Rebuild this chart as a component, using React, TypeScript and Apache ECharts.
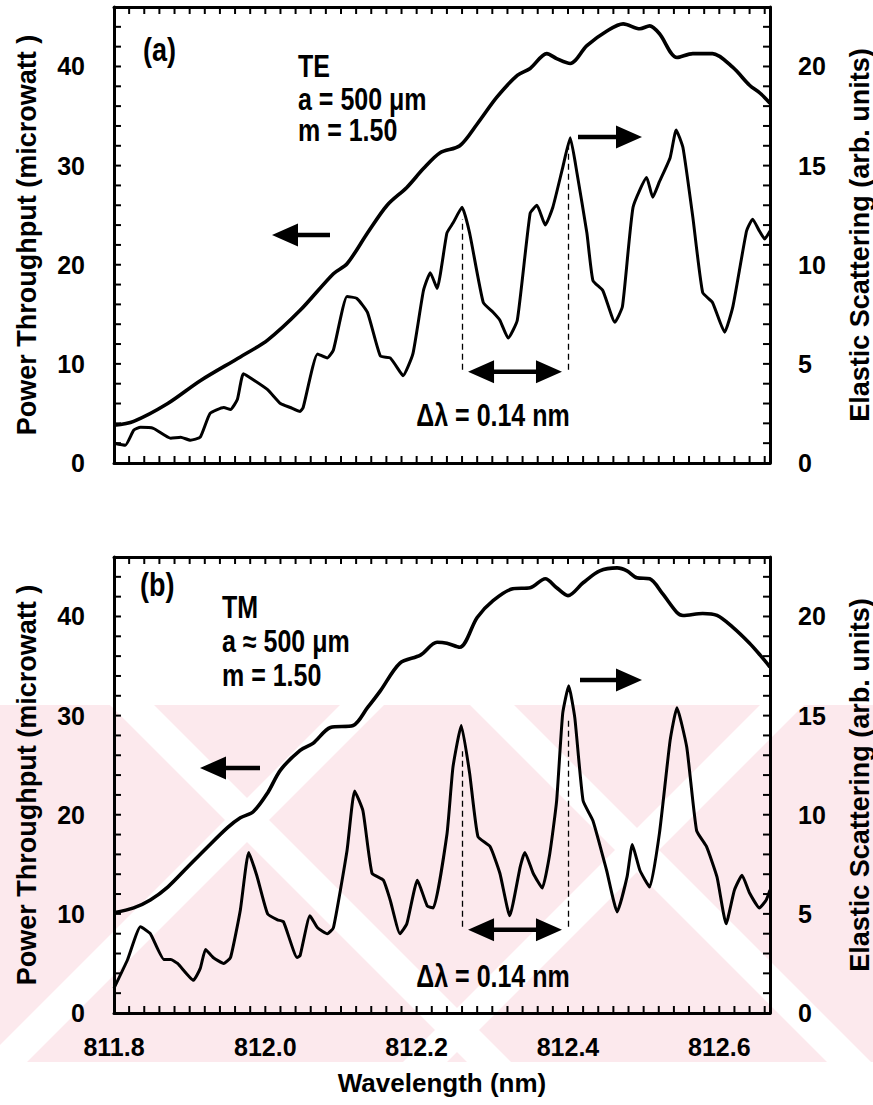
import React, { useEffect, useRef } from "react";
import * as echarts from "echarts";

// Wavelength range of both panels (nm)
const WL_MIN = 811.8;
const WL_MAX = 812.667;
const WL_STEP = 0.02;
const wavelengthLabels = [811.8, 812.0, 812.2, 812.4, 812.6];

// Left axis: power throughput (microwatt); right axis: elastic scattering (arb. units)
const POWER_MAX = 46;
const POWER_STEP = 2;
const SCATTER_MAX = 23;
const powerLabels = [0, 10, 20, 30, 40];
const scatterLabels = [0, 5, 10, 15, 20];

// (a) TE polarization
const teThroughput: [number, number][] = [
  [811.8, 3.8], [811.826, 4.2], [811.871, 6.0], [811.914, 8.3], [811.967, 10.7],
  [812.003, 12.4], [812.046, 15.4], [812.09, 19.1], [812.108, 20.1], [812.135, 23.2],
  [812.161, 26.0], [812.187, 27.8], [812.209, 29.7], [812.231, 31.3], [812.257, 32.0],
  [812.28, 34.2], [812.306, 36.9], [812.333, 39.1], [812.35, 39.8], [812.372, 41.3],
  [812.385, 40.8], [812.403, 40.3], [812.425, 42.1], [812.452, 43.6], [812.473, 44.3],
  [812.495, 43.8], [812.508, 44.1], [812.521, 43.3], [812.544, 40.9], [812.565, 41.3],
  [812.591, 41.3], [812.618, 39.9], [812.64, 38.1], [812.654, 37.3], [812.667, 36.3],
];

const teScattering: [number, number][] = [
  [811.8, 1.0], [811.815, 0.9], [811.826, 1.65], [811.835, 1.8], [811.852, 1.75],
  [811.875, 1.25], [811.888, 1.3], [811.901, 1.15], [811.914, 1.3], [811.927, 2.5],
  [811.945, 2.8], [811.954, 2.7], [811.963, 3.2], [811.971, 4.5], [811.984, 4.2],
  [812.003, 3.7], [812.02, 3.0], [812.033, 2.8], [812.046, 2.6], [812.05, 2.8],
  [812.069, 5.5], [812.082, 5.3], [812.09, 5.7], [812.108, 8.4], [812.121, 8.3],
  [812.135, 7.6], [812.152, 5.4], [812.165, 5.3], [812.178, 4.6], [812.182, 4.4],
  [812.195, 5.5], [812.209, 8.7], [812.218, 9.6], [812.227, 8.8], [812.24, 11.6],
  [812.248, 12.1], [812.26, 12.9], [812.27, 11.6], [812.288, 8.1], [812.301, 7.6],
  [812.31, 7.2], [812.321, 6.3], [812.333, 7.2], [812.35, 12.6], [812.359, 13.0],
  [812.37, 12.0], [812.38, 12.9], [812.393, 14.9], [812.403, 16.4], [812.412, 14.6],
  [812.425, 11.6], [812.433, 9.2], [812.446, 8.7], [812.462, 7.1], [812.472, 7.9],
  [812.486, 12.9], [812.504, 14.4], [812.512, 13.4], [812.521, 14.2], [812.535, 15.4],
  [812.543, 16.8], [812.552, 15.9], [812.565, 12.4], [812.578, 8.6], [812.591, 8.1],
  [812.607, 6.6], [812.618, 7.9], [812.636, 11.7], [812.644, 12.3], [812.653, 11.7],
  [812.66, 11.3], [812.667, 11.7],
];

// (b) TM polarization
const tmThroughput: [number, number][] = [
  [811.8, 10.1], [811.826, 10.6], [811.848, 11.4], [811.871, 12.7], [811.897, 14.7],
  [811.923, 16.7], [811.95, 18.7], [811.967, 19.7], [811.984, 20.3], [812.003, 22.2],
  [812.02, 24.5], [812.046, 26.5], [812.063, 27.2], [812.086, 28.8], [812.116, 29.0],
  [812.135, 30.8], [812.152, 32.5], [812.178, 35.3], [812.205, 36.1], [812.227, 37.4],
  [812.24, 37.3], [812.257, 36.9], [812.28, 39.9], [812.301, 41.6], [812.327, 42.8],
  [812.35, 42.9], [812.37, 43.8], [812.385, 42.9], [812.4, 42.1], [812.42, 43.4],
  [812.442, 44.6], [812.465, 44.9], [812.478, 44.6], [812.491, 43.9], [812.508, 43.8],
  [812.525, 42.3], [812.544, 40.4], [812.552, 40.1], [812.578, 40.3], [812.597, 40.1],
  [812.618, 38.9], [812.64, 37.3], [812.654, 36.1], [812.667, 34.9],
];

const tmScattering: [number, number][] = [
  [811.8, 1.25], [811.818, 2.7], [811.835, 4.35], [811.848, 4.0], [811.866, 2.7],
  [811.875, 2.7], [811.884, 2.5], [811.905, 1.65], [811.914, 2.25], [811.921, 3.2],
  [811.931, 2.8], [811.945, 2.5], [811.954, 2.8], [811.967, 5.2], [811.978, 8.1],
  [811.989, 6.9], [812.003, 5.0], [812.016, 4.7], [812.024, 4.6], [812.042, 2.8],
  [812.046, 2.9], [812.059, 4.9], [812.069, 4.3], [812.082, 4.0], [812.09, 4.3],
  [812.108, 8.2], [812.118, 11.2], [812.129, 10.2], [812.141, 7.05], [812.156, 6.7],
  [812.165, 5.7], [812.178, 4.0], [812.187, 4.5], [812.201, 6.7], [812.214, 5.4],
  [812.222, 5.3], [812.24, 9.0], [812.248, 12.4], [812.259, 14.5], [812.27, 12.1],
  [812.281, 8.9], [812.297, 8.4], [812.31, 7.05], [812.323, 4.9], [812.337, 7.4],
  [812.343, 8.1], [812.354, 7.05], [812.366, 6.3], [812.376, 8.05], [812.385, 10.7],
  [812.393, 15.1], [812.401, 16.5], [812.409, 14.9], [812.42, 10.7], [812.433, 9.7],
  [812.451, 7.2], [812.465, 5.1], [812.478, 6.85], [812.485, 8.5], [812.495, 7.2],
  [812.508, 6.35], [812.521, 9.1], [812.535, 13.75], [812.544, 15.4], [812.557, 13.4],
  [812.57, 9.2], [812.583, 8.4], [812.597, 6.85], [812.609, 4.5], [812.62, 6.2],
  [812.63, 6.95], [812.64, 6.05], [812.653, 5.3], [812.662, 5.7], [812.667, 6.2],
];

// Mode spacing marked between two neighbouring resonances
const resonancePair = [812.26, 812.4];
const spacingLabel = "Δλ = 0.14 nm";

const panelTags = ["(a)", "(b)"];
const panelModes = ["TE", "TM"];
const panelRadius = ["a = 500 μm", "a ≈ 500 μm"];
const panelIndex = ["m = 1.50", "m = 1.50"];
// dashed guide extents (right-axis units) and the level of the spacing arrow
const guideBottom = [4.7, 4.35];
const guideTops = [[12.3, 16.2], [13.2, 14.9]];
const spanLevel = [4.6, 4.2];

const FONT = "'Liberation Sans', Arial, Helvetica, sans-serif";
const GRID_LEFT = 114;
const GRID_WIDTH = 656;
const GRID_HEIGHT = 456;
const GRID_TOPS = [7, 557];
const TICK_LEN = 7;
const TICK_W = 2;

function nearAny(v: number, list: number[], tol: number) {
  return list.some((t) => Math.abs(v - t) < tol);
}

function arrowPoints(x0: number, x1: number, y: number, both: boolean) {
  const head = 26;
  const hw = 11.5;
  const sw = 2.3;
  const dir = x1 > x0 ? 1 : -1;
  const hb = x1 - dir * head;
  if (!both) {
    return [
      [x0, y - sw], [hb, y - sw], [hb, y - hw], [x1, y], [hb, y + hw], [hb, y + sw], [x0, y + sw],
    ];
  }
  const ha = x0 + dir * head;
  return [
    [x0, y], [ha, y - hw], [ha, y - sw], [hb, y - sw], [hb, y - hw], [x1, y],
    [hb, y + hw], [hb, y + sw], [ha, y + sw], [ha, y + hw],
  ];
}

function tallText(text: string, x: number, y: number, size = 25, align = "left") {
  return {
    type: "text",
    x,
    y,
    scaleY: 1.22,
    z: 20,
    style: {
      text,
      fontSize: size,
      fontWeight: "bold",
      fontFamily: FONT,
      fill: "#000",
      align,
      textAlign: align,
      verticalAlign: "middle",
      textVerticalAlign: "middle",
    },
  };
}

export default function App() {
  const ref = useRef<HTMLDivElement>(null);

  useEffect(() => {
    if (!ref.current) return;
    const chart = echarts.init(ref.current, null, { renderer: "svg" });

    const frame = () => ({ show: true, onZero: false, lineStyle: { color: "#000", width: 3 } });
    const labelFont = () => ({ fontSize: 25, fontWeight: "bold", fontFamily: FONT, color: "#000" });
    const nameFont = () => ({ fontSize: 27, fontWeight: "bold", fontFamily: FONT, color: "#000" });

    const xAxes: any[] = [];
    // bottom axes of both panels
    [0, 1].forEach((g) => {
      xAxes.push({
        type: "value",
        gridIndex: g,
        position: "bottom",
        min: WL_MIN,
        max: WL_MAX,
        interval: WL_STEP,
        axisLine: frame(),
        axisTick: { show: false },
        splitLine: { show: false },
        axisLabel: {
          show: g === 1,
          margin: 21,
          ...labelFont(),
          formatter: (v: number) => (nearAny(v, wavelengthLabels, 1e-6) ? v.toFixed(1) : ""),
        },
        name: g === 1 ? "Wavelength (nm)" : "",
        nameLocation: "middle",
        nameGap: 57,
        nameTextStyle: { ...nameFont(), fontSize: 26 },
      });
    });
    // mirrored top axes (frame only)
    [0, 1].forEach((g) => {
      xAxes.push({
        type: "value",
        gridIndex: g,
        position: "top",
        min: WL_MIN,
        max: WL_MAX,
        interval: WL_STEP,
        axisLine: frame(),
        axisTick: { show: false },
        axisLabel: { show: false },
        splitLine: { show: false },
      });
    });

    const yAxes: any[] = [];
    [0, 1].forEach((g) => {
      yAxes.push({
        type: "value",
        gridIndex: g,
        position: "left",
        min: 0,
        max: POWER_MAX,
        interval: POWER_STEP,
        axisLine: frame(),
        axisTick: { show: false },
        splitLine: { show: false },
        axisLabel: {
          margin: 29,
          ...labelFont(),
          formatter: (v: number) => (nearAny(v, powerLabels, 1e-6) ? String(v) : ""),
        },
        name: "Power Throughput (microwatt )",
        nameLocation: "middle",
        nameRotate: 90,
        nameGap: 74,
        nameTextStyle: nameFont(),
      });
      yAxes.push({
        type: "value",
        gridIndex: g,
        position: "right",
        min: 0,
        max: SCATTER_MAX,
        interval: 1,
        axisLine: frame(),
        axisTick: { show: false },
        splitLine: { show: false },
        axisLabel: {
          margin: 28,
          ...labelFont(),
          formatter: (v: number) => (nearAny(v, scatterLabels, 1e-6) ? String(v) : ""),
        },
        name: "Elastic Scattering (arb. units)",
        nameLocation: "middle",
        nameRotate: 90,
        nameGap: 76,
        nameTextStyle: nameFont(),
      });
    });

    const curve = (data: [number, number][], xi: number, yi: number, width: number, smooth: number) => ({
      type: "line",
      data,
      xAxisIndex: xi,
      yAxisIndex: yi,
      symbol: "none",
      showSymbol: false,
      smooth,
      z: 5,
      lineStyle: { color: "#000", width, join: "round" },
    });

    const guides = (g: number) => ({
      silent: true,
      symbol: "none",
      label: { show: false },
      lineStyle: { color: "#000", width: 1.3, type: [6, 4] },
      data: resonancePair.map((wl, k) => [
        { coord: [wl, guideBottom[g]] },
        { coord: [wl, guideTops[g][k]] },
      ]),
    });

    const teScatterSeries: any = curve(teScattering, 0, 1, 3, 0.15);
    teScatterSeries.markLine = guides(0);
    const tmScatterSeries: any = curve(tmScattering, 1, 3, 3, 0.15);
    tmScatterSeries.markLine = guides(1);

    chart.setOption({
      animation: false,
      grid: GRID_TOPS.map((top) => ({
        left: GRID_LEFT,
        top,
        width: GRID_WIDTH,
        height: GRID_HEIGHT,
        containLabel: false,
        outerBoundsMode: "none",
      })),
      xAxis: xAxes,
      yAxis: yAxes,
      series: [
        curve(teThroughput, 0, 0, 3.6, 0.3),
        teScatterSeries,
        curve(tmThroughput, 1, 2, 3.6, 0.3),
        tmScatterSeries,
      ],
    });

    const elements: any[] = [];

    // Inward tick marks on all four sides of each frame (every 0.02 nm and every 2 µW)
    const tickBar = (x: number, y: number, w: number, h: number) => ({
      type: "rect",
      z: 10,
      shape: { x, y, width: w, height: h },
      style: { fill: "#000" },
    });
    GRID_TOPS.forEach((top) => {
      const bottom = top + GRID_HEIGHT;
      const left = GRID_LEFT;
      const right = GRID_LEFT + GRID_WIDTH;
      const xOf = (wl: number) => left + ((wl - WL_MIN) / (WL_MAX - WL_MIN)) * GRID_WIDTH;
      const yOf = (v: number) => bottom - (v / POWER_MAX) * GRID_HEIGHT;
      for (let k = 1; WL_MIN + k * WL_STEP < WL_MAX - 1e-9; k++) {
        const px = xOf(WL_MIN + k * WL_STEP);
        elements.push(tickBar(px - TICK_W / 2, bottom - TICK_LEN, TICK_W, TICK_LEN));
        elements.push(tickBar(px - TICK_W / 2, top, TICK_W, TICK_LEN));
      }
      for (let v = POWER_STEP; v < POWER_MAX; v += POWER_STEP) {
        const py = yOf(v);
        elements.push(tickBar(left, py - TICK_W / 2, TICK_LEN, TICK_W));
        elements.push(tickBar(right - TICK_LEN, py - TICK_W / 2, TICK_LEN, TICK_W));
      }
    });

    // faint pink watermark band behind the lower panel
    const bandTop = 705;
    const bandBottom = 1062;
    const bh = bandBottom - bandTop;
    elements.push({
      type: "rect",
      z: -100,
      shape: { x: 0, y: bandTop, width: 873, height: bh },
      style: { fill: "#fce9ed" },
    });
    const stripe = (topX: number, w: number, dir: number) => ({
      type: "polygon",
      z: -99,
      shape: {
        points: [
          [topX, bandTop], [topX + w, bandTop],
          [topX + w + dir * bh, bandBottom], [topX + dir * bh, bandBottom],
        ],
      },
      style: { fill: "#ffffff" },
    });
    [[110, 1], [470, 1], [340, -1], [760, -1]].forEach(([x, d]) => elements.push(stripe(x, 44, d)));

    // pointer arrows and the spacing arrow between the marked resonances
    const pointers = [
      { left: [330, 272, 235], right: [578, 642, 137] },
      { left: [260, 200, 768], right: [580, 642, 680] },
    ];
    [0, 1].forEach((g) => {
      const p0 = chart.convertToPixel({ xAxisIndex: g, yAxisIndex: g * 2 + 1 }, [resonancePair[0], spanLevel[g]]) as number[];
      const p1 = chart.convertToPixel({ xAxisIndex: g, yAxisIndex: g * 2 + 1 }, [resonancePair[1], spanLevel[g]]) as number[];
      elements.push({
        type: "polygon",
        z: 20,
        shape: { points: arrowPoints(p0[0] + 6, p1[0] - 6, p0[1], true) },
        style: { fill: "#000" },
      });
      const pl = pointers[g];
      elements.push({
        type: "polygon",
        z: 20,
        shape: { points: arrowPoints(pl.left[0], pl.left[1], pl.left[2], false) },
        style: { fill: "#000" },
      });
      elements.push({
        type: "polygon",
        z: 20,
        shape: { points: arrowPoints(pl.right[0], pl.right[1], pl.right[2], false) },
        style: { fill: "#000" },
      });
    });

    // panel (a) text
    elements.push(tallText(panelTags[0], 143, 50, 27));
    elements.push(tallText(panelModes[0], 298, 67));
    elements.push(tallText(panelRadius[0], 298, 100));
    elements.push(tallText(panelIndex[0], 298, 131));
    elements.push(tallText(spacingLabel, 493, 416, 25, "center"));
    // panel (b) text
    elements.push(tallText(panelTags[1], 140, 585, 27));
    elements.push(tallText(panelModes[1], 222, 608));
    elements.push(tallText(panelRadius[1], 222, 642));
    elements.push(tallText(panelIndex[1], 222, 676));
    elements.push(tallText(spacingLabel, 493, 977, 25, "center"));

    chart.setOption({ graphic: { elements } });

    return () => chart.dispose();
  }, []);

  return (
    <div
      ref={ref}
      style={{ position: "absolute", left: 0, top: 0, width: 873, height: 1105, background: "#fff" }}
    />
  );
}
